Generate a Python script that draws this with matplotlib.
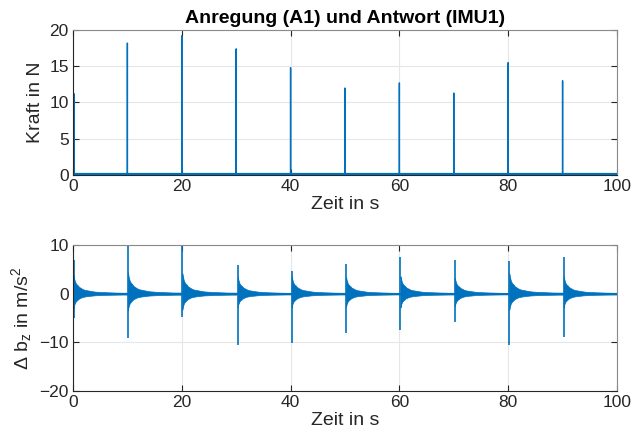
import numpy as np
import matplotlib.pyplot as plt

plt.rcParams['font.family'] = ['Liberation Sans', 'DejaVu Sans']
plt.rcParams['mathtext.fontset'] = 'custom'
plt.rcParams['mathtext.rm'] = 'Liberation Sans'
plt.rcParams['mathtext.it'] = 'Liberation Sans'

# Anregung: Zeitpunkte und Spitzenkraft (N)
t_kraft = [0.2, 10.0, 20.0, 30.0, 40.0, 50.0, 60.0, 70.0, 80.0, 90.0]
f_peak = [11.2, 18.2, 19.2, 17.4, 14.8, 12.0, 12.7, 11.3, 15.5, 13.0]

# Antwort: Zeitpunkte, positive und negative Spitzen (m/s^2)
t_acc = [0.1, 10.1, 20.1, 30.3, 40.2, 50.2, 60.2, 70.2, 80.2, 90.2]
a_max = [6.9, 9.8, 10.0, 5.9, 4.7, 6.2, 7.6, 6.9, 6.7, 7.6]
a_min = [-4.9, -9.2, -4.7, -10.6, -10.2, -8.0, -7.5, -5.9, -10.6, -8.8]
burst = [1.0, 1.15, 1.1, 0.9, 0.95, 0.9, 0.95, 0.85, 1.1, 0.95]

# Huellkurve des Ausschwingens nach einem Stoss (relativ zum Stosszeitpunkt)
rel_t = [0.0, 0.1, 0.3, 0.5, 0.8, 1.0, 1.3, 1.6, 2.0, 2.5, 3.0, 3.5, 4.0, 5.0, 6.0, 7.0, 8.0, 9.0, 9.9]
env_up = [3.8, 3.2, 2.4, 2.0, 1.7, 1.4, 1.2, 1.0, 0.8, 0.7, 0.6, 0.5, 0.42, 0.35, 0.3, 0.26, 0.22, 0.2, 0.2]
env_lo = [-3.0, -2.4, -1.8, -1.5, -1.2, -1.0, -0.85, -0.7, -0.6, -0.5, -0.45, -0.38, -0.33, -0.28, -0.24, -0.22, -0.2, -0.18, -0.18]

blue = '#0072BD'
dark = '#262626'

fig = plt.figure(figsize=(6.33, 4.38), dpi=100)
ax1 = fig.add_axes([0.1153, 0.6005, 0.8594, 0.331])
ax2 = fig.add_axes([0.1153, 0.1073, 0.8594, 0.3333])

# oberer Plot
xs, ys = [0.0], [0.0]
for t, f in zip(t_kraft, f_peak):
    xs += [t - 0.01, t, t + 0.01]
    ys += [0.0, f, 0.0]
xs.append(100.0); ys.append(0.0)
ax1.plot(xs, ys, color=blue, lw=1.0)
ax1.axhline(0.12, color=blue, lw=1.6)
ax1.set_ylim(0, 20)
ax1.set_yticks([0, 5, 10, 15, 20])
ax1.set_ylabel('Kraft in N', fontsize=14, color=dark)
ax1.set_title('Anregung (A1) und Antwort (IMU1)', fontsize=14, fontweight='bold',
              color='black', pad=5)

# unterer Plot
for t, up, lo, s in zip(t_acc, a_max, a_min, burst):
    tt = [t + r for r in rel_t]
    ax2.fill_between(tt, [s * v for v in env_up], [s * v for v in env_lo],
                     color=blue, lw=0.5, edgecolor=blue)
    ax2.vlines(t, lo, up, color=blue, lw=1.2)
ax2.fill_between([0, 100], [0.18, 0.18], [-0.18, -0.18], color=blue, lw=0)
ax2.set_ylim(-20, 10)
ax2.set_yticks([-20, -10, 0, 10])
ax2.set_ylabel(r'$\Delta$ b$_\mathrm{z}$ in m/s$^2$', fontsize=14, color=dark)

for ax in (ax1, ax2):
    ax.set_xlim(0, 100)
    ax.set_xticks([0, 20, 40, 60, 80, 100])
    ax.set_xlabel('Zeit in s', fontsize=14, color=dark, labelpad=1)
    ax.grid(True, color='#e6e6e6', lw=0.8)
    ax.set_axisbelow(True)
    ax.tick_params(direction='in', length=4, labelsize=12.5, colors=dark,
                   top=True, right=True, pad=3)
    for sp in ax.spines.values():
        sp.set_color(dark)
        sp.set_linewidth(0.8)
    for sp in ('top', 'right'):
        ax.spines[sp].set_color('#8a8a8a')

fig.savefig('out.png', dpi=100)
